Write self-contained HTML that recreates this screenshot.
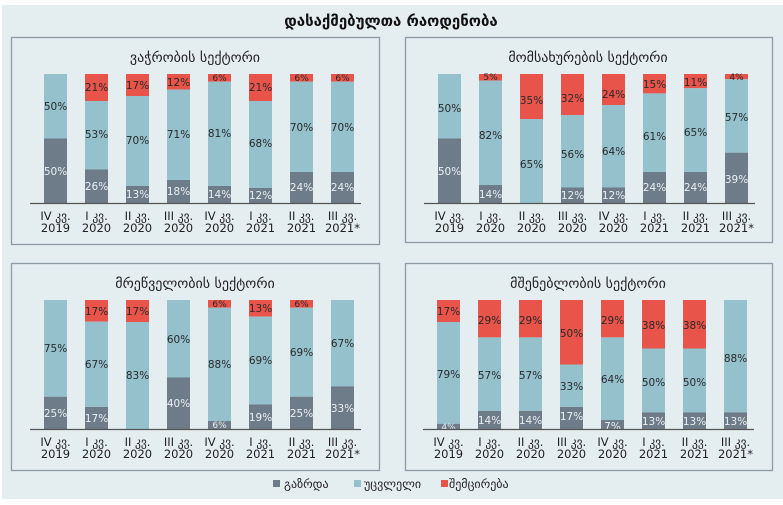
<!DOCTYPE html>
<html><head><meta charset="utf-8"><style>
html,body{margin:0;padding:0;background:#fff;}
svg{display:block;}
text{font-family:"DejaVu Sans","Liberation Sans",sans-serif;}
.v{font-size:10.5px;text-anchor:middle;fill:#2a2a2a;}
.w{font-size:10.5px;text-anchor:middle;fill:#e9f0f2;}
.ax{font-size:11.5px;text-anchor:middle;fill:#222;}
.t{font-size:14px;text-anchor:middle;fill:#222;}
.r{fill:#e8534a}.b{fill:#95c1cd}.g{fill:#6e7b88}
</style></head><body>
<svg width="783" height="505" viewBox="0 0 783 505" xmlns="http://www.w3.org/2000/svg">
<rect x="2" y="5" width="781" height="494" fill="#e4edf0"/>
<text x="391" y="26" style="font-size:15px;font-weight:bold;text-anchor:middle;fill:#111">დასაქმებულთა რაოდენობა</text>
<rect x="11.5" y="37.5" width="368" height="207" fill="none" stroke="#8d9ca2" stroke-width="1.3"/>
<rect x="405.5" y="37.5" width="367" height="205" fill="none" stroke="#8d9ca2" stroke-width="1.3"/>
<rect x="11.5" y="263.5" width="368" height="207" fill="none" stroke="#8d9ca2" stroke-width="1.3"/>
<rect x="405.5" y="263.5" width="367" height="207" fill="none" stroke="#8d9ca2" stroke-width="1.3"/>
<text class="t" x="195" y="62">ვაჭრობის სექტორი</text>
<text class="t" x="588" y="62">მომსახურების სექტორი</text>
<text class="t" x="195" y="288">მრეწველობის სექტორი</text>
<text class="t" x="588" y="288">მშენებლობის სექტორი</text>

<!-- TL -->
<g transform="translate(44,74)">
<rect class="b" x="0" y="0" width="23" height="64.5"/><rect class="g" x="0" y="64.5" width="23" height="64.5"/>
<text class="v" x="11.5" y="36">50%</text><text class="w" x="11.5" y="101">50%</text>
<rect class="r" x="41" y="0" width="23" height="27"/><rect class="b" x="41" y="27" width="23" height="68.5"/><rect class="g" x="41" y="95.5" width="23" height="33.5"/>
<text class="v" x="52.5" y="17">21%</text><text class="v" x="52.5" y="64">53%</text><text class="w" x="52.5" y="116">26%</text>
<rect class="r" x="82" y="0" width="23" height="22"/><rect class="b" x="82" y="22" width="23" height="90"/><rect class="g" x="82" y="112" width="23" height="17"/>
<text class="v" x="93.5" y="15">17%</text><text class="v" x="93.5" y="70">70%</text><text class="w" x="93.5" y="124">13%</text>
<rect class="r" x="123" y="0" width="23" height="15.5"/><rect class="b" x="123" y="15.5" width="23" height="90.5"/><rect class="g" x="123" y="106" width="23" height="23"/>
<text class="v" x="134.5" y="12">12%</text><text class="v" x="134.5" y="64">71%</text><text class="w" x="134.5" y="121">18%</text>
<rect class="r" x="164" y="0" width="23" height="7.7"/><rect class="b" x="164" y="7.7" width="23" height="104.3"/><rect class="g" x="164" y="112" width="23" height="17"/>
<text class="v" x="175.5" y="7" style="font-size:9px">6%</text><text class="v" x="175.5" y="63">81%</text><text class="w" x="175.5" y="124">14%</text>
<rect class="r" x="205" y="0" width="23" height="27"/><rect class="b" x="205" y="27" width="23" height="87"/><rect class="g" x="205" y="114" width="23" height="15"/>
<text class="v" x="216.5" y="17">21%</text><text class="v" x="216.5" y="73">68%</text><text class="w" x="216.5" y="125">12%</text>
<rect class="r" x="246" y="0" width="23" height="7.7"/><rect class="b" x="246" y="7.7" width="23" height="90.3"/><rect class="g" x="246" y="98" width="23" height="31"/>
<text class="v" x="257.5" y="7" style="font-size:9px">6%</text><text class="v" x="257.5" y="57">70%</text><text class="w" x="257.5" y="117">24%</text>
<rect class="r" x="287" y="0" width="23" height="7.7"/><rect class="b" x="287" y="7.7" width="23" height="90.3"/><rect class="g" x="287" y="98" width="23" height="31"/>
<text class="v" x="298.5" y="7" style="font-size:9px">6%</text><text class="v" x="298.5" y="57">70%</text><text class="w" x="298.5" y="117">24%</text>
<line x1="-14" y1="129.5" x2="317" y2="129.5" stroke="#555" stroke-width="1.2"/>
<text class="ax" x="11.5" y="146">IV კვ.</text><text class="ax" x="11.5" y="158">2019</text>
<text class="ax" x="52.5" y="146">I კვ.</text><text class="ax" x="52.5" y="158">2020</text>
<text class="ax" x="93.5" y="146">II კვ.</text><text class="ax" x="93.5" y="158">2020</text>
<text class="ax" x="134.5" y="146">III კვ.</text><text class="ax" x="134.5" y="158">2020</text>
<text class="ax" x="175.5" y="146">IV კვ.</text><text class="ax" x="175.5" y="158">2020</text>
<text class="ax" x="216.5" y="146">I კვ.</text><text class="ax" x="216.5" y="158">2021</text>
<text class="ax" x="257.5" y="146">II კვ.</text><text class="ax" x="257.5" y="158">2021</text>
<text class="ax" x="298.5" y="146">III კვ.</text><text class="ax" x="298.5" y="158">2021*</text>
</g>

<!-- TR -->
<g transform="translate(438,74)">
<rect class="b" x="0" y="0" width="23" height="64.5"/><rect class="g" x="0" y="64.5" width="23" height="64.5"/>
<text class="v" x="11.5" y="38">50%</text><text class="w" x="11.5" y="101">50%</text>
<rect class="r" x="41" y="0" width="23" height="6.5"/><rect class="b" x="41" y="6.5" width="23" height="104.5"/><rect class="g" x="41" y="111" width="23" height="18"/>
<text class="v" x="52.5" y="6" style="font-size:9px">5%</text><text class="v" x="52.5" y="65">82%</text><text class="w" x="52.5" y="124">14%</text>
<rect class="r" x="82" y="0" width="23" height="45"/><rect class="b" x="82" y="45" width="23" height="84"/>
<text class="v" x="93.5" y="30">35%</text><text class="v" x="93.5" y="94">65%</text>
<rect class="r" x="123" y="0" width="23" height="41"/><rect class="b" x="123" y="41" width="23" height="72.5"/><rect class="g" x="123" y="113.5" width="23" height="15.5"/>
<text class="v" x="134.5" y="28">32%</text><text class="v" x="134.5" y="84">56%</text><text class="w" x="134.5" y="125">12%</text>
<rect class="r" x="164" y="0" width="23" height="31"/><rect class="b" x="164" y="31" width="23" height="82.5"/><rect class="g" x="164" y="113.5" width="23" height="15.5"/>
<text class="v" x="175.5" y="24">24%</text><text class="v" x="175.5" y="81">64%</text><text class="w" x="175.5" y="125">12%</text>
<rect class="r" x="205" y="0" width="23" height="19.4"/><rect class="b" x="205" y="19.4" width="23" height="78.6"/><rect class="g" x="205" y="98" width="23" height="31"/>
<text class="v" x="216.5" y="14">15%</text><text class="v" x="216.5" y="66">61%</text><text class="w" x="216.5" y="117">24%</text>
<rect class="r" x="246" y="0" width="23" height="14.2"/><rect class="b" x="246" y="14.2" width="23" height="83.8"/><rect class="g" x="246" y="98" width="23" height="31"/>
<text class="v" x="257.5" y="12">11%</text><text class="v" x="257.5" y="62">65%</text><text class="w" x="257.5" y="117">24%</text>
<rect class="r" x="287" y="0" width="23" height="5.2"/><rect class="b" x="287" y="5.2" width="23" height="73.5"/><rect class="g" x="287" y="78.7" width="23" height="50.3"/>
<text class="v" x="298.5" y="6" style="font-size:9px">4%</text><text class="v" x="298.5" y="47">57%</text><text class="w" x="298.5" y="109">39%</text>
<line x1="-14" y1="129.5" x2="317" y2="129.5" stroke="#555" stroke-width="1.2"/>
<text class="ax" x="11.5" y="146">IV კვ.</text><text class="ax" x="11.5" y="158">2019</text>
<text class="ax" x="52.5" y="146">I კვ.</text><text class="ax" x="52.5" y="158">2020</text>
<text class="ax" x="93.5" y="146">II კვ.</text><text class="ax" x="93.5" y="158">2020</text>
<text class="ax" x="134.5" y="146">III კვ.</text><text class="ax" x="134.5" y="158">2020</text>
<text class="ax" x="175.5" y="146">IV კვ.</text><text class="ax" x="175.5" y="158">2020</text>
<text class="ax" x="216.5" y="146">I კვ.</text><text class="ax" x="216.5" y="158">2021</text>
<text class="ax" x="257.5" y="146">II კვ.</text><text class="ax" x="257.5" y="158">2021</text>
<text class="ax" x="298.5" y="146">III კვ.</text><text class="ax" x="298.5" y="158">2021*</text>
</g>

<!-- BL -->
<g transform="translate(44,300)">
<rect class="b" x="0" y="0" width="23" height="96.75"/><rect class="g" x="0" y="96.75" width="23" height="32.25"/>
<text class="v" x="11.5" y="52">75%</text><text class="w" x="11.5" y="117">25%</text>
<rect class="r" x="41" y="0" width="23" height="21.7"/><rect class="b" x="41" y="21.7" width="23" height="85.3"/><rect class="g" x="41" y="107" width="23" height="22"/>
<text class="v" x="52.5" y="15">17%</text><text class="v" x="52.5" y="68">67%</text><text class="w" x="52.5" y="122">17%</text>
<rect class="r" x="82" y="0" width="23" height="22"/><rect class="b" x="82" y="22" width="23" height="107"/>
<text class="v" x="93.5" y="15">17%</text><text class="v" x="93.5" y="79">83%</text>
<rect class="b" x="123" y="0" width="23" height="77.4"/><rect class="g" x="123" y="77.4" width="23" height="51.6"/>
<text class="v" x="134.5" y="43">60%</text><text class="w" x="134.5" y="107">40%</text>
<rect class="r" x="164" y="0" width="23" height="7.7"/><rect class="b" x="164" y="7.7" width="23" height="113.3"/><rect class="g" x="164" y="121" width="23" height="8"/>
<text class="v" x="175.5" y="7" style="font-size:9px">6%</text><text class="v" x="175.5" y="68">88%</text><text class="w" x="175.5" y="128" style="font-size:9px">6%</text>
<rect class="r" x="205" y="0" width="23" height="16.6"/><rect class="b" x="205" y="16.6" width="23" height="87.9"/><rect class="g" x="205" y="104.5" width="23" height="24.5"/>
<text class="v" x="216.5" y="12">13%</text><text class="v" x="216.5" y="64">69%</text><text class="w" x="216.5" y="121">19%</text>
<rect class="r" x="246" y="0" width="23" height="7.7"/><rect class="b" x="246" y="7.7" width="23" height="89.05"/><rect class="g" x="246" y="96.75" width="23" height="32.25"/>
<text class="v" x="257.5" y="7" style="font-size:9px">6%</text><text class="v" x="257.5" y="56">69%</text><text class="w" x="257.5" y="117">25%</text>
<rect class="b" x="287" y="0" width="23" height="86.4"/><rect class="g" x="287" y="86.4" width="23" height="42.6"/>
<text class="v" x="298.5" y="47">67%</text><text class="w" x="298.5" y="112">33%</text>
<line x1="-14" y1="129.5" x2="317" y2="129.5" stroke="#555" stroke-width="1.2"/>
<text class="ax" x="11.5" y="146">IV კვ.</text><text class="ax" x="11.5" y="158">2019</text>
<text class="ax" x="52.5" y="146">I კვ.</text><text class="ax" x="52.5" y="158">2020</text>
<text class="ax" x="93.5" y="146">II კვ.</text><text class="ax" x="93.5" y="158">2020</text>
<text class="ax" x="134.5" y="146">III კვ.</text><text class="ax" x="134.5" y="158">2020</text>
<text class="ax" x="175.5" y="146">IV კვ.</text><text class="ax" x="175.5" y="158">2020</text>
<text class="ax" x="216.5" y="146">I კვ.</text><text class="ax" x="216.5" y="158">2021</text>
<text class="ax" x="257.5" y="146">II კვ.</text><text class="ax" x="257.5" y="158">2021</text>
<text class="ax" x="298.5" y="146">III კვ.</text><text class="ax" x="298.5" y="158">2021*</text>
</g>

<!-- BR -->
<g transform="translate(437,300)">
<rect class="r" x="0" y="0" width="23" height="22"/><rect class="b" x="0" y="22" width="23" height="101.8"/><rect class="g" x="0" y="123.8" width="23" height="5.2"/>
<text class="v" x="11.5" y="15">17%</text><text class="v" x="11.5" y="78">79%</text><text class="w" x="11.5" y="130" style="font-size:9px">4%</text>
<rect class="r" x="41" y="0" width="23" height="37.4"/><rect class="b" x="41" y="37.4" width="23" height="73.6"/><rect class="g" x="41" y="111" width="23" height="18"/>
<text class="v" x="52.5" y="24">29%</text><text class="v" x="52.5" y="79">57%</text><text class="w" x="52.5" y="124">14%</text>
<rect class="r" x="82" y="0" width="23" height="37.4"/><rect class="b" x="82" y="37.4" width="23" height="73.6"/><rect class="g" x="82" y="111" width="23" height="18"/>
<text class="v" x="93.5" y="24">29%</text><text class="v" x="93.5" y="79">57%</text><text class="w" x="93.5" y="124">14%</text>
<rect class="r" x="123" y="0" width="23" height="64.5"/><rect class="b" x="123" y="64.5" width="23" height="42.5"/><rect class="g" x="123" y="107" width="23" height="22"/>
<text class="v" x="134.5" y="37">50%</text><text class="v" x="134.5" y="90">33%</text><text class="w" x="134.5" y="120">17%</text>
<rect class="r" x="164" y="0" width="23" height="37.4"/><rect class="b" x="164" y="37.4" width="23" height="82.6"/><rect class="g" x="164" y="120" width="23" height="9"/>
<text class="v" x="175.5" y="24">29%</text><text class="v" x="175.5" y="83">64%</text><text class="w" x="175.5" y="130">7%</text>
<rect class="r" x="205" y="0" width="23" height="48.5"/><rect class="b" x="205" y="48.5" width="23" height="63.9"/><rect class="g" x="205" y="112.4" width="23" height="16.6"/>
<text class="v" x="216.5" y="29">38%</text><text class="v" x="216.5" y="86">50%</text><text class="w" x="216.5" y="125">13%</text>
<rect class="r" x="246" y="0" width="23" height="48.5"/><rect class="b" x="246" y="48.5" width="23" height="63.9"/><rect class="g" x="246" y="112.4" width="23" height="16.6"/>
<text class="v" x="257.5" y="29">38%</text><text class="v" x="257.5" y="86">50%</text><text class="w" x="257.5" y="125">13%</text>
<rect class="b" x="287" y="0" width="23" height="112.4"/><rect class="g" x="287" y="112.4" width="23" height="16.6"/>
<text class="v" x="298.5" y="62">88%</text><text class="w" x="298.5" y="125">13%</text>
<line x1="-14" y1="129.5" x2="317" y2="129.5" stroke="#555" stroke-width="1.2"/>
<text class="ax" x="11.5" y="146">IV კვ.</text><text class="ax" x="11.5" y="158">2019</text>
<text class="ax" x="52.5" y="146">I კვ.</text><text class="ax" x="52.5" y="158">2020</text>
<text class="ax" x="93.5" y="146">II კვ.</text><text class="ax" x="93.5" y="158">2020</text>
<text class="ax" x="134.5" y="146">III კვ.</text><text class="ax" x="134.5" y="158">2020</text>
<text class="ax" x="175.5" y="146">IV კვ.</text><text class="ax" x="175.5" y="158">2020</text>
<text class="ax" x="216.5" y="146">I კვ.</text><text class="ax" x="216.5" y="158">2021</text>
<text class="ax" x="257.5" y="146">II კვ.</text><text class="ax" x="257.5" y="158">2021</text>
<text class="ax" x="298.5" y="146">III კვ.</text><text class="ax" x="298.5" y="158">2021*</text>
</g>

<!-- legend -->
<rect class="g" x="273" y="480" width="7" height="7"/>
<text x="284" y="488" style="font-size:12px;fill:#222">გაზრდა</text>
<rect class="b" x="354" y="480" width="7" height="7"/>
<text x="364" y="488" style="font-size:12px;fill:#222">უცვლელი</text>
<rect class="r" x="441" y="480" width="7" height="7"/>
<text x="449" y="488" style="font-size:12px;fill:#222">შემცირება</text>
</svg>
</body></html>
